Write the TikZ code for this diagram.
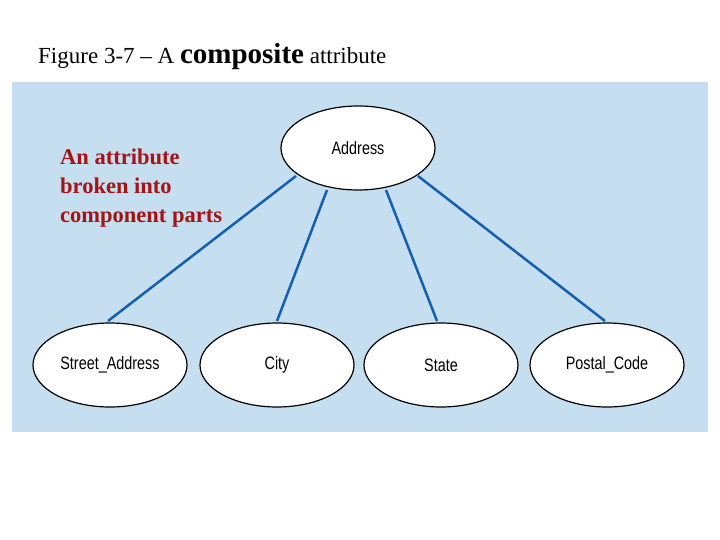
\documentclass[tikz,border=0pt]{standalone}
\usepackage{fontspec}
\usetikzlibrary{shapes.geometric}
\setmainfont{Liberation Serif}
\newfontfamily\lsans{Liberation Sans}
\definecolor{bgblue}{RGB}{197,222,240}
\definecolor{lineblue}{RGB}{20,95,175}
\definecolor{darkred}{RGB}{165,20,20}
\begin{document}
\begin{tikzpicture}[x=1pt,y=-1pt,
  attr/.style={draw=black,line width=1.2pt,fill=white,ellipse,minimum width=154pt,minimum height=84pt,inner sep=0pt,font=\lsans\fontsize{18}{18}\selectfont},
  conn/.style={lineblue,line width=2.5pt}]
\useasboundingbox (0,0) rectangle (720,540);
\fill[bgblue] (12,82) rectangle (708,432);
\node[anchor=base west,inner sep=0pt,font=\fontsize{23}{26}\selectfont] (title) at (38,64) {Figure 3-7 – A {\bfseries\fontsize{29}{30}\selectfont composite} attribute};
\node[anchor=north west,align=left,inner sep=0pt,text=darkred,font=\bfseries\fontsize{22.5}{29}\selectfont] (note) at (60,149) {An attribute\\broken into\\component parts};
\node[attr] (addr) at (358,148) {\scalebox{0.8}[1]{Address}};
\node[attr] (sa) at (110,365) {\scalebox{0.8}[1]{Street\_Address}};
\node[attr] (city) at (277,365) {\scalebox{0.8}[1]{City}};
\node[attr] (state) at (441,365) {\scalebox{0.8}[1]{State}};
\node[attr] (pc) at (607,365) {\scalebox{0.8}[1]{Postal\_Code}};
\coordinate (a1) at (296,176); \coordinate (b1) at (108,321);
\coordinate (a2) at (327,190); \coordinate (b2) at (277,321);
\coordinate (a3) at (386,190); \coordinate (b3) at (437,321);
\coordinate (a4) at (418,176); \coordinate (b4) at (605,321);
\draw[conn] (a1) -- (b1);
\draw[conn] (a2) -- (b2);
\draw[conn] (a3) -- (b3);
\draw[conn] (a4) -- (b4);
\end{tikzpicture}
\end{document}
